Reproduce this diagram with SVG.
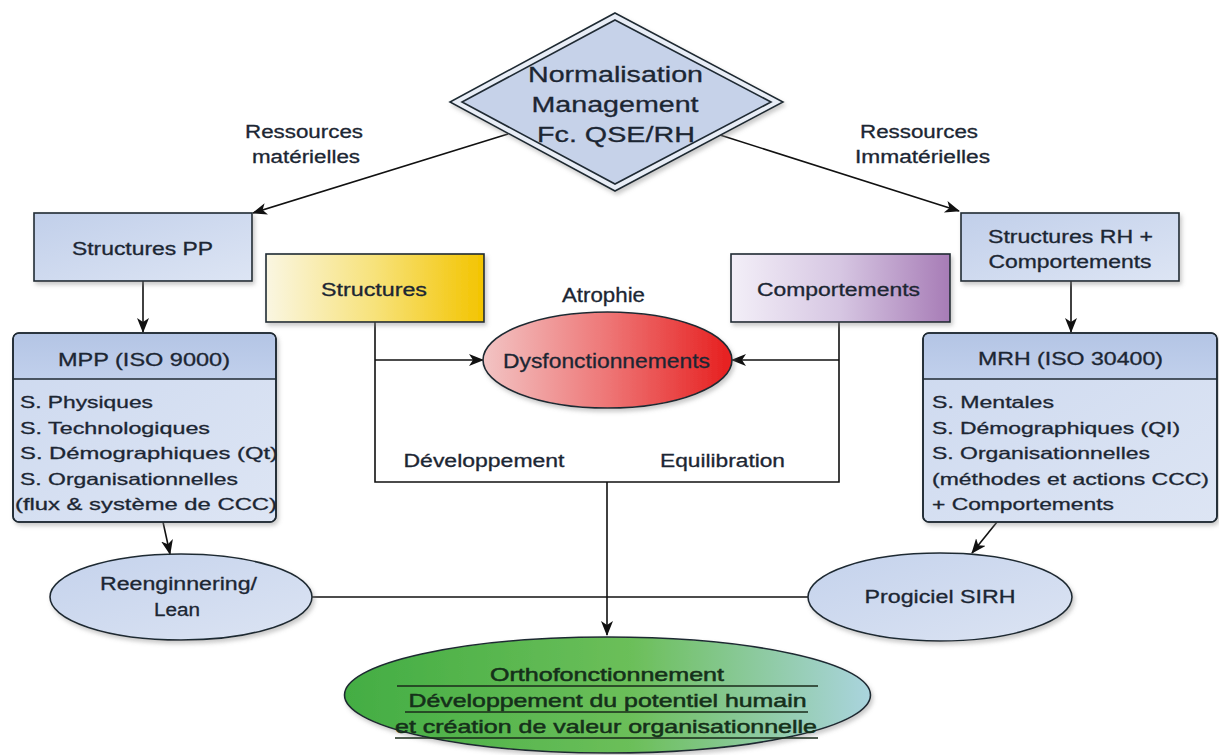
<svg xmlns="http://www.w3.org/2000/svg" width="1219" height="755" viewBox="0 0 1219 755">
<style>
  text { font-family: "Liberation Sans", Arial, sans-serif; fill: #1c2633; stroke: #1c2633; stroke-width: 0.3; }
  .t18 { font-size: 18px; }
  .t17 { font-size: 16.5px; }
  .t20 { font-size: 20px; }
  .t22 { font-size: 22px; }
  .mid { text-anchor: middle; }
  .box { stroke: #1f2a33; stroke-width: 1.6; }
  .conn { fill: none; stroke: #111; stroke-width: 1.6; }
  .arr { marker-end: url(#ah); }
  .ul { stroke: #1a2a1a; stroke-width: 1.5; }
  .gt { fill: #15301a; stroke: #15301a; stroke-width: 0.5; font-size: 18.5px; }
</style>
<defs>
  <marker id="ah" markerUnits="userSpaceOnUse" markerWidth="16" markerHeight="14" refX="14" refY="6" orient="auto">
    <path d="M0,0 L15,6 L0,12 L4,6 z" fill="#111"/>
  </marker>
  <linearGradient id="gBlue" x1="0" y1="0" x2="1" y2="1">
    <stop offset="0" stop-color="#c1cfea"/>
    <stop offset="1" stop-color="#dde5f4"/>
  </linearGradient>
  <linearGradient id="gHead" x1="0" y1="0" x2="0" y2="1">
    <stop offset="0" stop-color="#b4c5e5"/>
    <stop offset="1" stop-color="#c1d0ec"/>
  </linearGradient>
  <linearGradient id="gBody" x1="0" y1="0" x2="1" y2="1">
    <stop offset="0" stop-color="#cdd9ef"/>
    <stop offset="1" stop-color="#dde5f4"/>
  </linearGradient>
  <linearGradient id="gYel" x1="0" y1="0" x2="1" y2="0">
    <stop offset="0" stop-color="#faf6e2"/>
    <stop offset="0.5" stop-color="#f7e27a"/>
    <stop offset="1" stop-color="#f3c400"/>
  </linearGradient>
  <linearGradient id="gPur" x1="0" y1="0" x2="1" y2="0">
    <stop offset="0" stop-color="#f3eff8"/>
    <stop offset="0.5" stop-color="#d6c6e2"/>
    <stop offset="1" stop-color="#a77cb6"/>
  </linearGradient>
  <linearGradient id="gRed" x1="0" y1="0" x2="1" y2="0">
    <stop offset="0" stop-color="#f2c4c4"/>
    <stop offset="0.5" stop-color="#ee7676"/>
    <stop offset="1" stop-color="#e61e1e"/>
  </linearGradient>
  <linearGradient id="gGreen" x1="0" y1="0" x2="1" y2="0">
    <stop offset="0" stop-color="#43ad43"/>
    <stop offset="0.55" stop-color="#6cbf5a"/>
    <stop offset="1" stop-color="#aad4de"/>
  </linearGradient>
  <linearGradient id="gEll" x1="0" y1="0" x2="1" y2="1">
    <stop offset="0" stop-color="#c4d2ec"/>
    <stop offset="1" stop-color="#dce4f3"/>
  </linearGradient>
  <filter id="sh" x="-10%" y="-10%" width="130%" height="140%">
    <feDropShadow dx="2" dy="3" stdDeviation="2" flood-color="#888" flood-opacity="0.45"/>
  </filter>
</defs>

<rect width="1219" height="755" fill="#ffffff"/>

<g id="connectors">
  <line class="conn arr" x1="508" y1="134" x2="253" y2="213"/>
  <line class="conn arr" x1="720" y1="135" x2="959" y2="211"/>
  <line class="conn arr" x1="143" y1="281" x2="143" y2="332"/>
  <line class="conn arr" x1="1071" y1="281" x2="1071" y2="332"/>
  <line class="conn arr" x1="163" y1="522" x2="170" y2="554"/>
  <line class="conn arr" x1="997" y1="522" x2="972" y2="553"/>
  <path class="conn" d="M375,322 V482 H839 V322"/>
  <path class="conn arr" d="M375,360 H483"/>
  <path class="conn arr" d="M839,360 H732"/>
  <path class="conn arr" d="M607,482 V635"/>
  <path class="conn" d="M312,597 H808"/>
</g>

<g id="normalisation">
  <polygon points="615,13 783,102 615,191 450,102" fill="#e8edf6" class="box" filter="url(#sh)"/>
  <polygon points="615,20 771,102 615,184 462,102" fill="#c6d2e9" class="box"/>
  <text class="t22 mid" x="615.5" y="82" textLength="175" lengthAdjust="spacingAndGlyphs">Normalisation</text>
  <text class="t22 mid" x="615" y="112" textLength="167" lengthAdjust="spacingAndGlyphs">Management</text>
  <text class="t22 mid" x="616" y="142" textLength="158" lengthAdjust="spacingAndGlyphs">Fc. QSE/RH</text>
</g>

<g id="label-materielles">
  <text class="t18 mid" x="304" y="138" textLength="118" lengthAdjust="spacingAndGlyphs">Ressources</text>
  <text class="t18 mid" x="306" y="163" textLength="108" lengthAdjust="spacingAndGlyphs">matérielles</text>
</g>
<g id="label-immaterielles">
  <text class="t18 mid" x="919" y="138" textLength="118" lengthAdjust="spacingAndGlyphs">Ressources</text>
  <text class="t18 mid" x="922.5" y="163" textLength="135" lengthAdjust="spacingAndGlyphs">Immatérielles</text>
</g>

<g id="structures-pp">
  <rect x="34" y="213" width="218" height="68" fill="url(#gBlue)" class="box" filter="url(#sh)"/>
  <text class="t18 mid" x="142.5" y="255" textLength="141" lengthAdjust="spacingAndGlyphs">Structures PP</text>
</g>

<g id="structures-rh">
  <rect x="961" y="213" width="218" height="68" fill="url(#gBlue)" class="box" filter="url(#sh)"/>
  <text class="t18 mid" x="1070.5" y="243" textLength="165" lengthAdjust="spacingAndGlyphs">Structures RH +</text>
  <text class="t18 mid" x="1070" y="268" textLength="163" lengthAdjust="spacingAndGlyphs">Comportements</text>
</g>

<g id="mpp">
  <rect x="13" y="333" width="263" height="189" rx="6" fill="url(#gBody)" class="box" filter="url(#sh)"/>
  <path d="M14,379 V339 Q14,334 19,334 H270 Q275,334 275,339 V379 z" fill="url(#gHead)"/>
  <rect x="13" y="333" width="263" height="189" rx="6" fill="none" class="box"/>
  <line x1="13" y1="379" x2="276" y2="379" class="box"/>
  <text class="t18 mid" x="144" y="366" textLength="172" lengthAdjust="spacingAndGlyphs">MPP (ISO 9000)</text>
  <text class="t17" x="20" y="408" textLength="133" lengthAdjust="spacingAndGlyphs">S. Physiques</text>
  <text class="t17" x="20" y="433.5" textLength="190" lengthAdjust="spacingAndGlyphs">S. Technologiques</text>
  <text class="t17" x="20" y="459" textLength="258" lengthAdjust="spacingAndGlyphs">S. Démographiques (Qt)</text>
  <text class="t17" x="20" y="484.5" textLength="218" lengthAdjust="spacingAndGlyphs">S. Organisationnelles</text>
  <text class="t17" x="15" y="510" textLength="262" lengthAdjust="spacingAndGlyphs">(flux &amp; système de CCC)</text>
</g>

<g id="mrh">
  <rect x="923" y="333" width="294" height="189" rx="6" fill="url(#gBody)" class="box" filter="url(#sh)"/>
  <path d="M924,379 V339 Q924,334 929,334 H1211 Q1216,334 1216,339 V379 z" fill="url(#gHead)"/>
  <rect x="923" y="333" width="294" height="189" rx="6" fill="none" class="box"/>
  <line x1="923" y1="379" x2="1217" y2="379" class="box"/>
  <text class="t18 mid" x="1070.5" y="365" textLength="185" lengthAdjust="spacingAndGlyphs">MRH (ISO 30400)</text>
  <text class="t17" x="932" y="408" textLength="122" lengthAdjust="spacingAndGlyphs">S. Mentales</text>
  <text class="t17" x="932" y="433.5" textLength="248" lengthAdjust="spacingAndGlyphs">S. Démographiques (QI)</text>
  <text class="t17" x="932" y="459" textLength="218" lengthAdjust="spacingAndGlyphs">S. Organisationnelles</text>
  <text class="t17" x="932" y="484.5" textLength="277" lengthAdjust="spacingAndGlyphs">(méthodes et actions CCC)</text>
  <text class="t17" x="932" y="510" textLength="182" lengthAdjust="spacingAndGlyphs">+ Comportements</text>
</g>

<g id="structures">
  <rect x="266" y="254" width="218" height="68" fill="url(#gYel)" class="box" filter="url(#sh)"/>
  <text class="t18 mid" x="374" y="296" textLength="106" lengthAdjust="spacingAndGlyphs">Structures</text>
</g>

<g id="comportements">
  <rect x="731" y="254" width="219" height="68" fill="url(#gPur)" class="box" filter="url(#sh)"/>
  <text class="t18 mid" x="838.5" y="296" textLength="163" lengthAdjust="spacingAndGlyphs">Comportements</text>
</g>

<g id="label-atrophie">
  <text class="t20 mid" x="603.5" y="302" textLength="83" lengthAdjust="spacingAndGlyphs">Atrophie</text>
</g>

<g id="dysfonctionnements">
  <ellipse cx="607.5" cy="360" rx="124.5" ry="48" fill="url(#gRed)" class="box" filter="url(#sh)"/>
  <text class="t20 mid" x="606.5" y="368" textLength="207" lengthAdjust="spacingAndGlyphs">Dysfonctionnements</text>
</g>

<g id="label-developpement">
  <text class="t18 mid" x="484" y="467" textLength="161" lengthAdjust="spacingAndGlyphs">Développement</text>
</g>
<g id="label-equilibration">
  <text class="t18 mid" x="722.5" y="467" textLength="125" lengthAdjust="spacingAndGlyphs">Equilibration</text>
</g>

<g id="reengineering">
  <ellipse cx="181" cy="597" rx="131" ry="43" fill="url(#gEll)" class="box" filter="url(#sh)"/>
  <text class="t18 mid" x="178.5" y="590" textLength="157" lengthAdjust="spacingAndGlyphs">Reenginnering/</text>
  <text class="t18 mid" x="177" y="616" textLength="46" lengthAdjust="spacingAndGlyphs">Lean</text>
</g>

<g id="progiciel">
  <ellipse cx="940" cy="597" rx="132" ry="44" fill="url(#gEll)" class="box" filter="url(#sh)"/>
  <text class="t18 mid" x="940" y="603" textLength="151" lengthAdjust="spacingAndGlyphs">Progiciel SIRH</text>
</g>

<g id="orthofonctionnement">
  <ellipse cx="607.5" cy="695" rx="263" ry="58" fill="url(#gGreen)" class="box" filter="url(#sh)"/>
  <text class="gt mid" x="607" y="681" textLength="234" lengthAdjust="spacingAndGlyphs">Orthofonctionnement</text>
  <line class="ul" x1="397" y1="686" x2="818" y2="686"/>
  <text class="gt mid" x="607.5" y="707" textLength="398" lengthAdjust="spacingAndGlyphs">Développement du potentiel humain</text>
  <line class="ul" x1="405" y1="712" x2="808" y2="712"/>
  <text class="gt mid" x="606" y="733" textLength="422" lengthAdjust="spacingAndGlyphs">et création de valeur organisationnelle</text>
  <line class="ul" x1="395" y1="738" x2="818" y2="738"/>
</g>
</svg>
